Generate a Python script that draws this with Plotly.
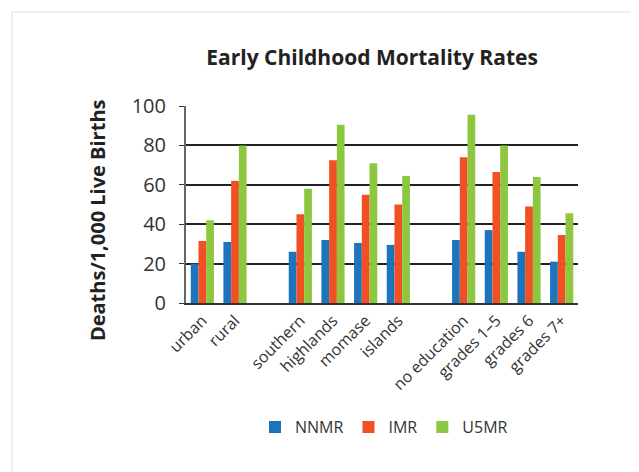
import plotly.graph_objects as go

categories = ["urban", "rural", "", "southern", "highlands", "momase", "islands", "",
              "no education", "grades 1–5", "grades 6", "grades 7+"]
nnmr = [20, 31, None, 26, 32, 30.5, 29.5, None, 32, 37, 26, 21]
imr = [31.5, 62, None, 45, 72.5, 55, 50, None, 74, 66.5, 49, 34.5]
u5mr = [42, 80, None, 58, 90.5, 71, 64.5, None, 95.5, 80, 64, 45.5]
series_names = ["NNMR", "IMR", "U5MR"]
colors = ["#1C75BC", "#F05023", "#8DC63F"]

x = list(range(len(categories)))
fig = go.Figure()
for name, vals, c in zip(series_names, [nnmr, imr, u5mr], colors):
    fig.add_trace(go.Bar(x=x, y=vals, name=name, marker_color=c, marker_line_width=0))

font = "Open Sans"
# page body has an 8px margin, so the figure is 8px smaller and shifted
fig.update_layout(
    width=631, height=464,
    paper_bgcolor="white", plot_bgcolor="white",
    margin=dict(l=178, r=61, t=98, b=169, autoexpand=False),
    barmode="group", bargap=0.29, bargroupgap=0,
    font=dict(family=font, color="#222"),
    title=dict(text="<b>Early Childhood Mortality Rates</b>", x=0.577, xanchor="center",
               y=0.892, yanchor="middle", font=dict(size=21, color="#222", family=font)),
    legend=dict(orientation="h", x=0.176, xanchor="left", y=-0.63, yanchor="middle",
                font=dict(size=16, color="#333"), itemwidth=30, traceorder="normal"),
    xaxis=dict(tickmode="array", tickvals=x, ticktext=categories, tickangle=-45,
               range=[-0.5, 11.5], showgrid=False, showline=True, linecolor="#333", linewidth=2,
               ticks="", tickfont=dict(size=16, color="#333")),
    yaxis=dict(range=[0, 100], dtick=20, showgrid=True, gridcolor="#222", gridwidth=1.5,
               showline=True, linecolor="#666", linewidth=2, ticks="outside", ticklen=5,
               tickcolor="#333", tickfont=dict(size=20, color="#333"), zeroline=False,
               ticklabelstandoff=9),
)
fig.add_annotation(text="<b>Deaths/1,000 Live Births</b>", xref="paper", yref="paper",
                   x=-0.227, y=0.421, xanchor="center", yanchor="middle", textangle=-90,
                   showarrow=False, font=dict(size=20, color="#222", family=font))
fig.add_shape(type="line", xref="paper", yref="paper", x0=-0.444, x1=1.3,
              y0=1.477, y1=1.477, line=dict(color="#ddd", width=1))
fig.add_shape(type="line", xref="paper", yref="paper", x0=-0.444, x1=-0.444,
              y0=1.48, y1=-0.9, line=dict(color="#ddd", width=1))
fig.write_html("out.html")
